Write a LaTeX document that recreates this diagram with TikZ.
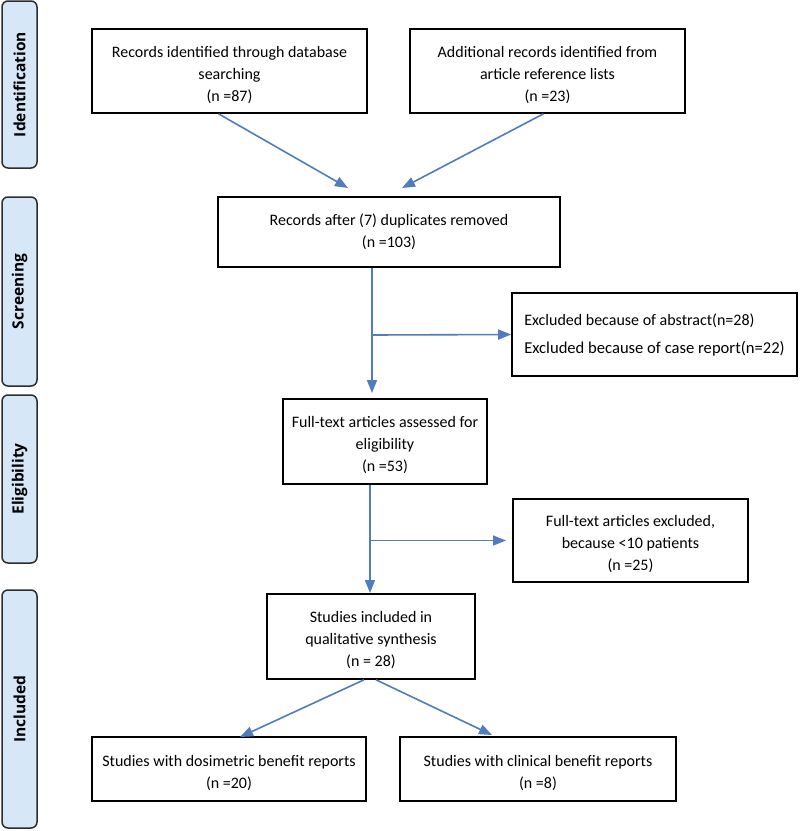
\documentclass[tikz,border=0pt]{standalone}
\usepackage{fontspec}
\setmainfont{Carlito}
\newfontfamily\labfont{Open Sans}
\usetikzlibrary{arrows.meta}
\definecolor{arrblue}{RGB}{79,125,189}
\definecolor{labfill}{RGB}{214,231,247}
\definecolor{labdraw}{RGB}{45,45,45}
\newcommand\tdown{\rule{0pt}{19pt}}
\begin{document}
\begin{tikzpicture}[x=1pt,y=-1pt,
  box/.style={draw=black, line width=1.6pt, rectangle, align=center, inner sep=0pt,
    font=\fontsize{16}{22}\selectfont},
  lab/.style={draw=labdraw, fill=labfill, line width=1.5pt, rounded corners=6pt,
    rotate=90, minimum height=35pt, inner sep=0pt,
    font=\labfont\bfseries\fontsize{15.5}{18}\selectfont},
  arr/.style={draw=arrblue, line width=1.6pt, -{Triangle[length=13pt,width=10pt]}}]
\useasboundingbox (0,0) rectangle (800,831);
\fill[white] (0,0) rectangle (800,831);

% stage labels
\node[lab, minimum width=167pt] (L1) at (19.5,84.5) {Identification};
\node[lab, minimum width=189pt] (L2) at (19.5,291.5) {Screening};
\node[lab, minimum width=168pt] (L3) at (19.5,479) {Eligibility};
\node[lab, minimum width=238pt] (L4) at (19.5,709) {Included};

% boxes
\node[box, minimum width=275pt, minimum height=84pt] (b1) at (229.5,71)
  {\tdown Records identified through database\\searching\\(n =87)};
\node[box, minimum width=275pt, minimum height=84pt] (b2) at (547.5,71)
  {\tdown Additional records identified from\\article reference lists\\(n =23)};
\node[box, minimum width=342pt, minimum height=70pt] (b3) at (389,232)
  {Records after (7) duplicates removed\\(n =103)};
\node[box, minimum width=285pt, minimum height=83pt, align=left] (b4) at (654.5,334.5)
  {Excluded because of abstract(n=28)\\[6pt]\fontsize{16.6}{22}\selectfont Excluded because of case report(n=22)};
\node[box, minimum width=204pt, minimum height=85pt] (b5) at (385,441.5)
  {\tdown Full-text articles assessed for\\eligibility\\(n =53)};
\node[box, minimum width=235pt, minimum height=83pt] (b6) at (630.5,540.5)
  {\tdown Full-text articles excluded,\\because <10 patients\\(n =25)};
\node[box, minimum width=208pt, minimum height=85pt] (b7) at (371,636.5)
  {\tdown Studies included in\\qualitative synthesis\\(n = 28)};
\node[box, minimum width=274pt, minimum height=64pt] (b8) at (229,769)
  {\tdown Studies with dosimetric benefit reports\\(n =20)};
\node[box, minimum width=276pt, minimum height=64pt] (b9) at (538,769)
  {\tdown Studies with clinical benefit reports\\(n =8)};

% connector ends
\coordinate (t1) at (348,188);
\coordinate (t2) at (402,188);
\coordinate (t3) at (372,393);
\coordinate (j1) at (372,335);
\coordinate (t4) at (370,593);
\coordinate (j2) at (370,540.5);
\coordinate (t5) at (506,540.5);
\coordinate (t6) at (240,737);
\coordinate (t7) at (492,735);

% connectors
\draw[arr] ([xshift=-11pt]b1.south) -- (t1);
\draw[arr] ([xshift=-4pt]b2.south) -- (t2);
\draw[arr] ([xshift=-17pt]b3.south) -- (t3);
\draw[arr] (j1) -- (b4.west);
\draw[arr] ([xshift=-15pt]b5.south) -- (t4);
\draw[arr] (j2) -- (t5);
\draw[arr] ([xshift=-7pt]b7.south) -- (t6);
\draw[arr] ([xshift=5pt]b7.south) -- (t7);
\end{tikzpicture}
\end{document}
